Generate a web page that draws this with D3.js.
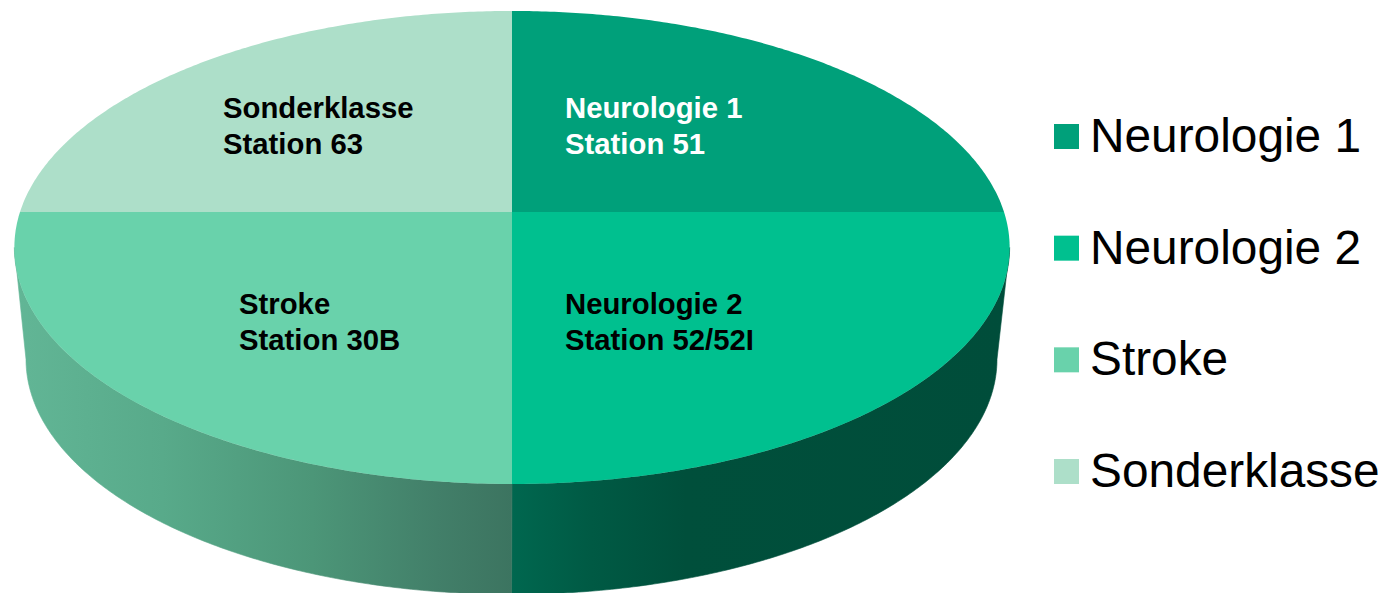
<!DOCTYPE html>
<html lang="de">
<head>
  <meta charset="UTF-8">
  <title>Stationen</title>
  <script src="https://d3js.org/d3.v7.min.js"></script>
  <style>
    html, body { margin: 0; padding: 0; background: #fff; overflow: hidden; }
    svg { display: block; }
    text { font-family: "Liberation Sans", Arial, sans-serif; }
    .slice-label { font-size: 29.3px; font-weight: bold; }
    .legend-label { font-size: 47.8px; fill: #000; }
  </style>
</head>
<body>
  <script>
    // data
    const categories = ["Neurologie 1", "Neurologie 2", "Stroke", "Sonderklasse"];
    const values = [25, 25, 25, 25];
    const sliceLines = [
      ["Neurologie 1", "Station 51"],
      ["Neurologie 2", "Station 52/52I"],
      ["Stroke", "Station 30B"],
      ["Sonderklasse", "Station 63"]
    ];

    // styles
    const colors = ["#00a07a", "#00c08f", "#69d2ab", "#addfc9"];
    const labelColors = ["#fff", "#000", "#000", "#000"];
    const labelX = [565, 565, 239, 223];
    const labelY = [118, 314, 314, 118];

    const width = 1386;
    const height = 593;
    const color = d3.scaleOrdinal().domain(categories).range(colors);

    const svg = d3.select("body").append("svg")
      .attr("width", width)
      .attr("height", height);

    // the disc is seen in perspective, so the circle centre is not the ellipse centre
    const persp = -0.15;
    const topRim = {cx: 512, cy: 212, a: 492, b: 231.2};
    const bottomRim = {cx: 511.5, cy: 324, a: 480, b: 229.8};

    function project(rim, angle, r) {
      const u = r * Math.sin(angle);
      const v = -r * Math.cos(angle);
      const w = 1 + persp * v;
      return [rim.cx + rim.a * u / w, rim.cy + rim.b * v / w];
    }

    function sampleAngles(a0, a1) {
      const n = Math.ceil(Math.abs(a1 - a0) / 0.01);
      return d3.range(n + 1).map(i => a0 + (a1 - a0) * i / n);
    }

    const line = d3.line();
    const pie = d3.pie().sort(null).value(d => d);
    const slices = pie(values);

    // where the rim turns away from the viewer
    const sil = Math.PI / 2 + Math.asin(-persp);

    const defs = svg.append("defs");
    const wallStops = [
      [[0, "#62b696"], [0.3, "#58aa8a"], [0.6, "#4c9678"], [0.85, "#427f69"], [1, "#3c7460"]],
      [[0, "#00674f"], [0.16, "#005a44"], [0.35, "#004f3b"], [1, "#004d3a"]]
    ];
    const wallRange = [[13, 512], [512, 1009]];
    wallStops.forEach((stops, i) => {
      const g = defs.append("linearGradient")
        .attr("id", "wall" + i)
        .attr("gradientUnits", "userSpaceOnUse")
        .attr("x1", wallRange[i][0]).attr("x2", wallRange[i][1])
        .attr("y1", 0).attr("y2", 0);
      g.selectAll("stop").data(stops).enter().append("stop")
        .attr("offset", d => d[0])
        .attr("stop-color", d => d[1]);
    });

    // side wall, only the slices on the near side have one
    const wall = slices.filter(d => d.startAngle < 2 * Math.PI - sil && d.endAngle > sil);
    svg.selectAll(".wall")
      .data(wall)
      .enter().append("path")
        .attr("class", "wall")
        .attr("fill", d => d.index === 2 ? "url(#wall0)" : "url(#wall1)")
        .attr("stroke", d => d.index === 2 ? "url(#wall0)" : "url(#wall1)")
        .attr("stroke-width", 0.6)
        .attr("d", d => {
          const a0 = Math.max(d.startAngle, sil);
          const a1 = Math.min(d.endAngle, 2 * Math.PI - sil);
          const angles = sampleAngles(a0, a1);
          const pts = angles.map(a => project(topRim, a, 1))
            .concat(angles.slice().reverse().map(a => project(bottomRim, a, 1)));
          return line(pts) + "Z";
        });

    // top face
    svg.selectAll(".slice")
      .data(slices)
      .enter().append("path")
        .attr("class", "slice")
        .attr("fill", (d, i) => color(categories[i]))
        .attr("d", d => {
          const pts = sampleAngles(d.startAngle, d.endAngle).map(a => project(topRim, a, 1));
          return line([[topRim.cx, topRim.cy]].concat(pts)) + "Z";
        });

    // labels on the slices
    const labels = svg.selectAll(".slice-label")
      .data(sliceLines)
      .enter().append("text")
        .attr("class", "slice-label")
        .attr("fill", (d, i) => labelColors[i])
        .attr("transform", (d, i) => "translate(" + labelX[i] + "," + labelY[i] + ")");
    labels.selectAll("tspan")
      .data(d => d)
      .enter().append("tspan")
        .attr("x", 0)
        .attr("y", (d, i) => i * 36)
        .text(d => d);

    // legend
    const legendY = d3.scalePoint().domain(categories).range([124, 459]);
    const legend = svg.selectAll(".legend")
      .data(categories)
      .enter().append("g")
        .attr("class", "legend")
        .attr("transform", d => "translate(1054," + legendY(d) + ")");
    legend.append("rect")
      .attr("width", 25)
      .attr("height", 25)
      .attr("fill", d => color(d));
    legend.append("text")
      .attr("class", "legend-label")
      .attr("x", 36)
      .attr("y", 28)
      .text(d => d);
  </script>
</body>
</html>
